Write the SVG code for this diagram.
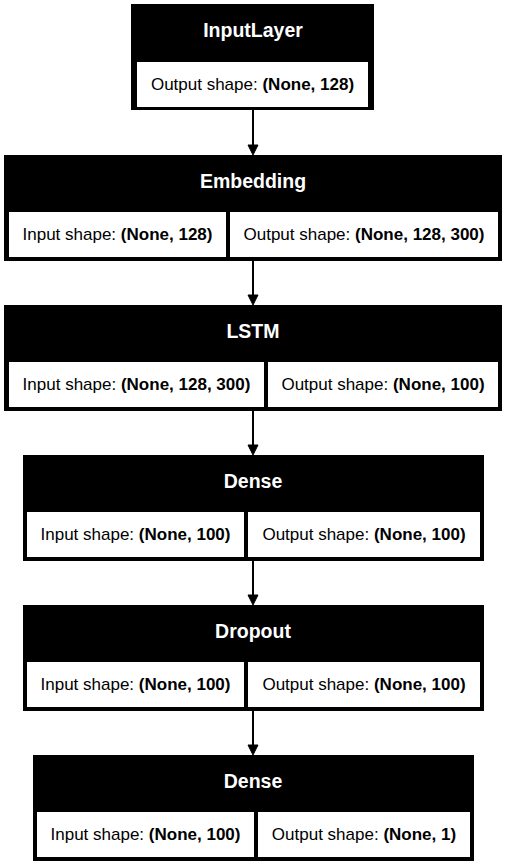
<svg xmlns="http://www.w3.org/2000/svg" width="506" height="865" viewBox="0 0 506 865">
<style>
.box{fill:#000}
.cell{fill:#fff}
.hd{font-family:"Liberation Sans",Arial,sans-serif;font-weight:bold;font-size:19.5px;fill:#fff;text-anchor:middle}
.tx{font-family:"Liberation Sans",Arial,sans-serif;font-size:17px;fill:#000;text-anchor:middle}
.b{font-weight:bold}
.edge{stroke:#000;stroke-width:2;fill:none}
.head{fill:#000;stroke:#000;stroke-width:1}
</style>
<rect width="506" height="865" fill="#fff"/>
<g id="connectors">
<line class="edge" x1="253" y1="110" x2="253" y2="146"/>
<polygon class="head" points="248,145 258,145 253,155"/>
<line class="edge" x1="253" y1="261" x2="253" y2="296"/>
<polygon class="head" points="248,295 258,295 253,305"/>
<line class="edge" x1="253" y1="411" x2="253" y2="446"/>
<polygon class="head" points="248,445 258,445 253,455"/>
<line class="edge" x1="253" y1="561" x2="253" y2="596"/>
<polygon class="head" points="248,595 258,595 253,605"/>
<line class="edge" x1="253" y1="711" x2="253" y2="746"/>
<polygon class="head" points="248,745 258,745 253,755"/>
</g>
<g id="node-inputlayer">
<rect class="box" x="131" y="4" width="243" height="106"/>
<rect class="cell" x="137" y="62" width="231" height="45"/>
<text class="hd" x="253" y="37">InputLayer</text>
<text class="tx" x="252.5" y="90">Output shape: <tspan class="b">(None, 128)</tspan></text>
</g>
<g id="node-embedding">
<rect class="box" x="4" y="155" width="498" height="106"/>
<rect class="cell" x="9" y="212" width="217" height="45"/>
<rect class="cell" x="230" y="212" width="268" height="45"/>
<text class="hd" x="253" y="188">Embedding</text>
<text class="tx" x="117.5" y="240">Input shape: <tspan class="b">(None, 128)</tspan></text>
<text class="tx" x="364" y="240">Output shape: <tspan class="b">(None, 128, 300)</tspan></text>
</g>
<g id="node-lstm">
<rect class="box" x="4" y="305" width="498" height="106"/>
<rect class="cell" x="9" y="362" width="255" height="45"/>
<rect class="cell" x="268" y="362" width="230" height="45"/>
<text class="hd" x="253" y="338">LSTM</text>
<text class="tx" x="136.5" y="390">Input shape: <tspan class="b">(None, 128, 300)</tspan></text>
<text class="tx" x="383" y="390">Output shape: <tspan class="b">(None, 100)</tspan></text>
</g>
<g id="node-dense1">
<rect class="box" x="23" y="455" width="461" height="106"/>
<rect class="cell" x="27" y="512" width="217" height="45"/>
<rect class="cell" x="248" y="512" width="232" height="45"/>
<text class="hd" x="253" y="488">Dense</text>
<text class="tx" x="135.5" y="540">Input shape: <tspan class="b">(None, 100)</tspan></text>
<text class="tx" x="364" y="540">Output shape: <tspan class="b">(None, 100)</tspan></text>
</g>
<g id="node-dropout">
<rect class="box" x="23" y="605" width="461" height="106"/>
<rect class="cell" x="27" y="662" width="217" height="45"/>
<rect class="cell" x="248" y="662" width="232" height="45"/>
<text class="hd" x="253" y="638">Dropout</text>
<text class="tx" x="135.5" y="690">Input shape: <tspan class="b">(None, 100)</tspan></text>
<text class="tx" x="364" y="690">Output shape: <tspan class="b">(None, 100)</tspan></text>
</g>
<g id="node-dense2">
<rect class="box" x="33" y="755" width="441" height="106"/>
<rect class="cell" x="37" y="812" width="217" height="45"/>
<rect class="cell" x="258" y="812" width="212" height="45"/>
<text class="hd" x="253" y="788">Dense</text>
<text class="tx" x="145.5" y="840">Input shape: <tspan class="b">(None, 100)</tspan></text>
<text class="tx" x="364" y="840">Output shape: <tspan class="b">(None, 1)</tspan></text>
</g>
</svg>
